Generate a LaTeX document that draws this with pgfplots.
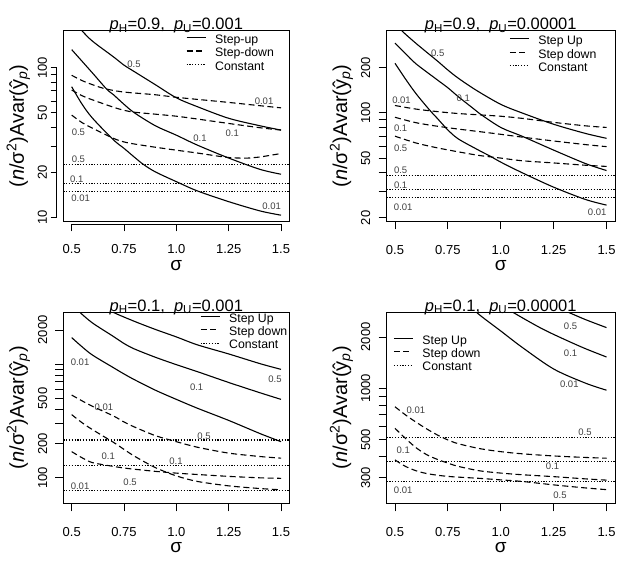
\documentclass[border=0pt]{standalone}
\usepackage{fontspec}
\setmainfont{Liberation Sans}
\usepackage{pgfplots}
\pgfplotsset{compat=1.18}

\newcommand\tickf{\fontsize{13}{15}\selectfont}
\newcommand\titf{\fontsize{16.5}{19}\selectfont}
\newcommand\labf{\fontsize{9.5}{11}\selectfont}
\newcommand\legf{\fontsize{12.3}{14}\selectfont}
\newcommand\ylabf{\fontsize{20}{24}\selectfont}
\newcommand\xlabf{\fontsize{19}{22}\selectfont}

\tikzset{lab/.style={font=\labf, text=black!75, inner sep=0pt, anchor=center},
  su/.style={black, line width=1.1pt, solid},
  sd/.style={black, line width=1.1pt, dash pattern=on 6pt off 3.5pt},
  ct/.style={black, line width=1.1pt, dash pattern=on 1.2pt off 1.6pt}}

\pgfplotsset{
  legend image code/.code={\draw[#1] (0pt,3.8pt) -- (19pt,3.8pt);},
  mainax/.style={
    scale only axis, height=191pt, xmin=0.46, xmax=1.54,
    xtick=\empty, ytick=\empty, axis line style={line width=0.9pt},
    anchor=south west, clip=true,
    title style={font=\titf, at={(axis description cs:0.5,1)}, anchor=base, yshift=-5pt},
    xlabel style={font=\xlabf, at={(axis description cs:0.5,0)}, anchor=center, inner sep=0pt, text height=10pt, text depth=0pt, yshift=-44.3pt},
    ylabel style={font=\ylabf, anchor=center},
    xlabel={σ},
    ylabel={(\textit{n}/σ\textsuperscript{2})Avar(ŷ\textsubscript{\textit{p}})},
    legend style={draw=none, fill=none, anchor=north west, font=\legf, inner sep=0pt, outer sep=0pt, row sep=0pt,
      nodes={inner sep=0pt, text height=8.6pt, text depth=4.8pt},
      /tikz/every odd column/.append style={column sep=9pt}},
    legend cell align=left,
  },
  xtax/.style={scale only axis, height=10pt, xmin=0.5, xmax=1.5, ymin=0, ymax=1,
    axis x line=bottom, axis y line=none, ytick=\empty,
    xtick={0.5,0.75,1,1.25,1.5},
    xticklabels={\mbox{0.5},\mbox{0.75},\mbox{1.0},\mbox{1.25},\mbox{1.5}},
    axis line style={line width=0.9pt,-}, tick style={line width=0.9pt, black},
    tick align=outside,
    xticklabel style={font=\tickf, inner sep=1pt}, anchor=south west},
  ytax/.style={scale only axis, width=10pt, xmin=0, xmax=1,
    axis y line=left, axis x line=none, xtick=\empty,
    axis line style={line width=0.9pt,-}, tick style={line width=0.9pt,black},
    tick align=outside, anchor=south west},
  ylabs/.style={yticklabel style={font=\tickf, xshift=#1, rotate=90, anchor=south}},
}

\begin{document}
\begin{tikzpicture}
\useasboundingbox (0,0) rectangle (621pt,568pt);

% ================= Panel 1 =================
\begin{axis}[ymode=log, mainax, at={(63.3pt,346.5pt)}, width=226.1pt, ymin=9.44, ymax=177,
  title={\textit{p}\textsubscript{H}=0.9,\ \ \textit{p}\textsubscript{U}=0.001},
  ylabel style={at={(axis description cs:-0.199,0.5)}},
  legend style={at={(axis description cs:0.543,0.978)}}]
\addlegendimage{su}\addlegendentry{Step-up}
\addlegendimage{sd}\addlegendentry{Step-down}
\addlegendimage{ct}\addlegendentry{Constant}
\addplot[su, smooth, forget plot] coordinates {(0.5,215) (0.55,176) (0.6,150) (0.7,118) (0.75,104) (0.8,94) (0.9,77) (1.0,63) (1.1,55) (1.25,46) (1.4,41) (1.5,38.4)};
\addplot[su, smooth, forget plot] coordinates {(0.5,132) (0.6,92) (0.667,72) (0.7,66) (0.75,57) (0.8,50) (0.9,41) (1.0,35.5) (1.1,30.5) (1.25,25) (1.4,21) (1.5,19.5)};
\addplot[su, smooth, forget plot] coordinates {(0.5,74.7) (0.55,57) (0.6,46) (0.7,33) (0.75,29) (0.8,25.3) (0.842,22.7) (0.9,20.2) (1.0,17.4) (1.1,15.1) (1.25,12.8) (1.4,11.1) (1.5,10.4)};
\addplot[sd, smooth, forget plot] coordinates {(0.5,89) (0.55,82) (0.6,77) (0.65,73) (0.7,70.5) (0.75,68.8) (0.8,67.8) (0.9,66) (1.0,63.5) (1.1,61.5) (1.25,58.7) (1.4,55.8) (1.5,54)};
\addplot[sd, smooth, forget plot] coordinates {(0.5,71) (0.55,65) (0.6,61) (0.7,54.5) (0.75,52) (0.8,50.5) (0.9,49) (1.0,47.5) (1.1,45.5) (1.25,42.5) (1.4,39.8) (1.5,38.4)};
\addplot[sd, smooth, forget plot] coordinates {(0.5,48.3) (0.55,43) (0.6,39.5) (0.7,33.8) (0.75,32) (0.8,31) (0.9,29.5) (1.0,28.2) (1.1,27) (1.25,25.2) (1.35,25) (1.4,25.4) (1.5,26.8)};
\addplot[ct, forget plot] coordinates {(0.46,22.7) (1.54,22.7)};
\addplot[ct, forget plot] coordinates {(0.46,16.9) (1.54,16.9)};
\addplot[ct, forget plot] coordinates {(0.46,14.9) (1.54,14.9)};
\node[lab] at (axis cs:0.798,105.8) {0.5};
\node[lab] at (axis cs:1.113,33.8) {0.1};
\node[lab] at (axis cs:1.455,12.0) {0.01};
\node[lab] at (axis cs:1.419,60) {0.01};
\node[lab] at (axis cs:1.267,36.5) {0.1};
\node[lab] at (axis cs:0.532,37.1) {0.5};
\node[lab] at (axis cs:0.532,24.5) {0.5};
\node[lab] at (axis cs:0.524,18.1) {0.1};
\node[lab] at (axis cs:0.543,13.5) {0.01};
\end{axis}
\begin{axis}[xtax, at={(71.7pt,343.5pt)}, width=209.3pt, major tick length=7pt,
  xticklabel style={yshift=-11.8pt}]
\end{axis}
\begin{axis}[ymode=log, ytax, ylabs=0pt, at={(56.6pt,350.26pt)}, height=150.04pt, ymin=10, ymax=100,
  major tick length=6pt,
  ytick={10,20,30,40,50,60,70,80,90,100},
  yticklabels={\mbox{10},\mbox{20},{},{},\mbox{50},{},{},{},{},\mbox{100}}]
\end{axis}

% ================= Panel 2 =================
\begin{axis}[ymode=log, mainax, at={(386.5pt,346.5pt)}, width=228.5pt, ymin=18.9, ymax=354,
  title={\textit{p}\textsubscript{H}=0.9,\ \ \textit{p}\textsubscript{U}=0.00001},
  ylabel style={at={(axis description cs:-0.197,0.5)}},
  legend style={at={(axis description cs:0.537,0.971)}}]
\addlegendimage{su}\addlegendentry{Step Up}
\addlegendimage{sd}\addlegendentry{Step down}
\addlegendimage{ct}\addlegendentry{Constant}
\addplot[su, smooth, forget plot] coordinates {(0.5,400) (0.531,354) (0.6,290) (0.7,222) (0.75,193) (0.8,170) (0.886,141) (1.0,114) (1.1,100) (1.25,84) (1.4,73) (1.5,67.7)};
\addplot[su, smooth, forget plot] coordinates {(0.5,292) (0.55,248) (0.6,212) (0.7,166) (0.75,147) (0.8,128) (0.87,107) (0.9,99) (1.0,80) (1.1,70) (1.25,56.5) (1.4,46) (1.5,41.3)};
\addplot[su, smooth, forget plot] coordinates {(0.5,214) (0.55,168) (0.6,134) (0.665,104) (0.7,92) (0.75,77) (0.8,67) (0.9,56) (0.95,51.5) (1.0,47) (1.1,40) (1.25,32) (1.4,26.5) (1.5,24.3)};
\addplot[sd, smooth, forget plot] coordinates {(0.5,112) (0.6,106) (0.7,102) (0.8,99) (0.9,97) (1.0,95) (1.1,92) (1.25,86.5) (1.4,82) (1.5,80)};
\addplot[sd, smooth, forget plot] coordinates {(0.5,93.5) (0.6,86) (0.7,81.5) (0.8,78) (0.9,75) (1.0,72) (1.1,69) (1.25,65) (1.4,61.5) (1.5,59.6)};
\addplot[sd, smooth, forget plot] coordinates {(0.5,70) (0.6,63) (0.7,58.5) (0.8,55) (0.9,52) (1.0,50) (1.1,48) (1.25,46.4) (1.4,44.8) (1.5,44)};
\addplot[ct, forget plot] coordinates {(0.46,38.4) (1.54,38.4)};
\addplot[ct, forget plot] coordinates {(0.46,31.0) (1.54,31.0)};
\addplot[ct, forget plot] coordinates {(0.46,27.3) (1.54,27.3)};
\node[lab] at (axis cs:0.702,250) {0.5};
\node[lab] at (axis cs:0.823,126) {0.1};
\node[lab] at (axis cs:1.456,21.7) {0.01};
\node[lab] at (axis cs:0.531,122) {0.01};
\node[lab] at (axis cs:0.527,78.9) {0.1};
\node[lab] at (axis cs:0.527,58.6) {0.5};
\node[lab] at (axis cs:0.527,41.3) {0.5};
\node[lab] at (axis cs:0.527,33.2) {0.1};
\node[lab] at (axis cs:0.539,23.7) {0.01};
\end{axis}
\begin{axis}[xtax, at={(394.96pt,346.5pt)}, width=211.57pt, major tick length=8pt,
  xticklabel style={yshift=-14.8pt}]
\end{axis}
\begin{axis}[ymode=log, ytax, ylabs=-4.6pt, at={(386.5pt,350.19pt)}, height=150.09pt, ymin=20, ymax=200,
  major tick length=8pt,
  ytick={20,30,40,50,60,70,80,90,100,200},
  yticklabels={\mbox{20},{},{},\mbox{50},{},{},{},{},\mbox{100},\mbox{200}}]
\end{axis}

% ================= Panel 3 =================
\begin{axis}[ymode=log, mainax, at={(63.3pt,64.7pt)}, width=226.1pt, ymin=59.7, ymax=2860,
  title={\textit{p}\textsubscript{H}=0.1,\ \ \textit{p}\textsubscript{U}=0.001},
  ylabel style={at={(axis description cs:-0.199,0.5)}},
  legend style={at={(axis description cs:0.605,0.994)}}]
\addlegendimage{su}\addlegendentry{Step Up}
\addlegendimage{sd}\addlegendentry{Step down}
\addlegendimage{ct}\addlegendentry{Constant}
\addplot[su, smooth, forget plot] coordinates {(0.5,4700) (0.6,3560) (0.7,2850) (0.8,2380) (0.9,2020) (1.0,1737) (1.1,1480) (1.25,1230) (1.4,1010) (1.5,900)};
\addplot[su, smooth, forget plot] coordinates {(0.5,3400) (0.54,2850) (0.6,2300) (0.7,1750) (0.75,1520) (0.8,1360) (0.9,1150) (1.0,990) (1.1,860) (1.25,690) (1.4,560) (1.5,490)};
\addplot[su, smooth, forget plot] coordinates {(0.5,1713) (0.55,1420) (0.6,1200) (0.7,930) (0.75,820) (0.8,730) (0.9,590) (1.0,490) (1.1,410) (1.25,320) (1.4,245) (1.5,208)};
\addplot[sd, smooth, forget plot] coordinates {(0.5,535) (0.55,475) (0.6,425) (0.7,350) (0.75,310) (0.8,280) (0.9,235) (1.0,208) (1.1,186) (1.25,165) (1.4,154) (1.5,149)};
\addplot[sd, smooth, forget plot] coordinates {(0.5,360) (0.55,305) (0.6,265) (0.7,205) (0.75,178) (0.8,155) (0.9,123) (1.0,104) (1.1,93) (1.25,85) (1.4,80.5) (1.5,78.5)};
\addplot[sd, smooth, forget plot] coordinates {(0.5,170) (0.55,150) (0.6,136) (0.7,126) (0.75,122) (0.8,119) (0.9,114) (1.0,110) (1.1,107) (1.25,103) (1.4,100) (1.5,99)};
\addplot[ct, forget plot] coordinates {(0.46,215) (1.54,215)};
\addplot[ct, forget plot] coordinates {(0.46,129) (1.54,129)};
\addplot[ct, forget plot] coordinates {(0.46,77.5) (1.54,77.5)};
\node[lab] at (axis cs:1.471,738) {0.5};
\node[lab] at (axis cs:1.097,632) {0.1};
\node[lab] at (axis cs:0.54,1048) {0.01};
\node[lab] at (axis cs:0.654,417) {0.01};
\node[lab] at (axis cs:0.675,156) {0.1};
\node[lab] at (axis cs:0.779,91.6) {0.5};
\node[lab] at (axis cs:1.132,230) {0.5};
\node[lab] at (axis cs:0.998,139) {0.1};
\node[lab] at (axis cs:0.54,85) {0.01};
\end{axis}
\begin{axis}[xtax, at={(71.7pt,64.7pt)}, width=209.3pt, major tick length=8pt,
  xticklabel style={yshift=-14.8pt}]
\end{axis}
\begin{axis}[ymode=log, ytax, ylabs=-4.6pt, at={(63.3pt,90.16pt)}, height=147.88pt, ymin=100, ymax=2000,
  major tick length=8pt,
  ytick={100,200,300,400,500,600,700,800,900,1000,2000},
  yticklabels={\mbox{100},\mbox{200},{},{},\mbox{500},{},{},{},{},{},\mbox{2000}}]
\end{axis}

% ================= Panel 4 =================
\begin{axis}[ymode=log, mainax, at={(386.5pt,64.7pt)}, width=228.5pt, ymin=213, ymax=2790,
  title={\textit{p}\textsubscript{H}=0.1,\ \ \textit{p}\textsubscript{U}=0.00001},
  ylabel style={at={(axis description cs:-0.197,0.5)}},
  legend style={at={(axis description cs:0.030,0.879)}}]
\addlegendimage{su}\addlegendentry{Step Up}
\addlegendimage{sd}\addlegendentry{Step down}
\addlegendimage{ct}\addlegendentry{Constant}
\addplot[su, smooth, forget plot] coordinates {(1.1,3730) (1.2,3240) (1.3,2860) (1.4,2530) (1.5,2270)};
\addplot[su, smooth, forget plot] coordinates {(0.9,3730) (1.0,3080) (1.1,2600) (1.2,2220) (1.3,1940) (1.4,1710) (1.5,1528)};
\addplot[su, smooth, forget plot] coordinates {(0.8,3600) (0.886,2786) (1.0,2170) (1.1,1745) (1.25,1300) (1.4,1075) (1.5,977)};
\addplot[sd, smooth, forget plot] coordinates {(0.5,782) (0.55,700) (0.6,635) (0.65,580) (0.7,535) (0.75,500) (0.8,475) (0.9,445) (1.0,427) (1.1,415) (1.25,403) (1.4,395) (1.5,391)};
\addplot[sd, smooth, forget plot] coordinates {(0.5,585) (0.55,510) (0.6,450) (0.65,410) (0.7,385) (0.75,366) (0.8,350) (0.9,330) (1.0,320) (1.1,313) (1.25,305) (1.4,296) (1.5,291)};
\addplot[sd, smooth, forget plot] coordinates {(0.5,382) (0.55,350) (0.6,330) (0.65,318) (0.7,311) (0.75,306) (0.8,303) (0.9,298) (1.0,292) (1.1,286) (1.25,273) (1.4,262) (1.5,256)};
\addplot[ct, forget plot] coordinates {(0.46,515) (1.54,515)};
\addplot[ct, forget plot] coordinates {(0.46,374) (1.54,374)};
\addplot[ct, forget plot] coordinates {(0.46,286) (1.54,286)};
\node[lab] at (axis cs:1.33,2320) {0.5};
\node[lab] at (axis cs:1.33,1600) {0.1};
\node[lab] at (axis cs:1.324,1059) {0.01};
\node[lab] at (axis cs:0.599,748) {0.01};
\node[lab] at (axis cs:0.539,437) {0.1};
\node[lab] at (axis cs:1.28,239) {0.5};
\node[lab] at (axis cs:1.398,552) {0.5};
\node[lab] at (axis cs:1.245,349) {0.1};
\node[lab] at (axis cs:0.539,255) {0.01};
\end{axis}
\begin{axis}[xtax, at={(394.96pt,64.7pt)}, width=211.57pt, major tick length=8pt,
  xticklabel style={yshift=-14.8pt}]
\end{axis}
\begin{axis}[ymode=log, ytax, ylabs=-4.6pt, at={(386.5pt,90.16pt)}, height=140.86pt, ymin=300, ymax=2000,
  major tick length=8pt,
  ytick={300,400,500,600,700,800,900,1000,2000},
  yticklabels={\mbox{300},{},\mbox{500},{},{},{},{},\mbox{1000},\mbox{2000}}]
\end{axis}
\end{tikzpicture}
\end{document}
